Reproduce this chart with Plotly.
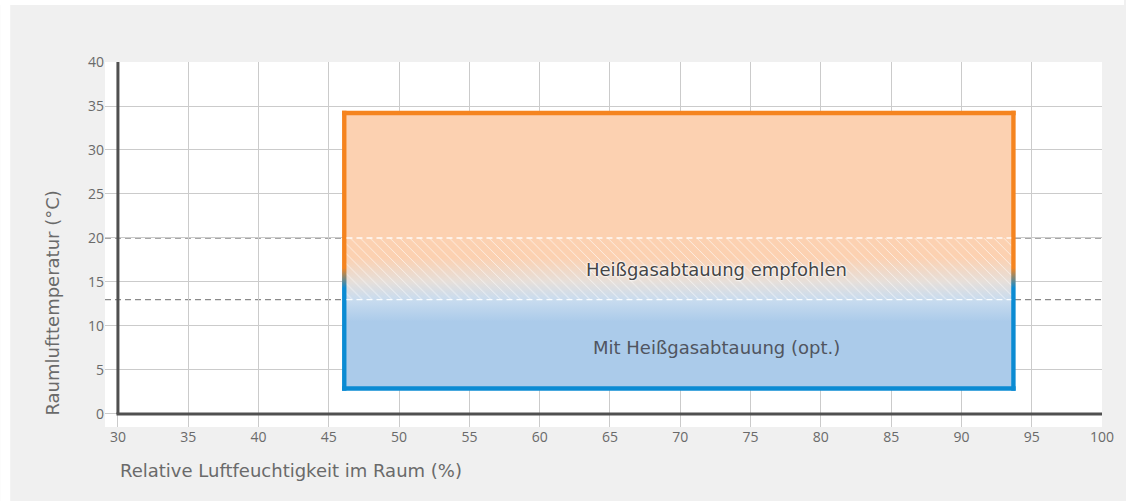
import plotly.graph_objects as go

# Operating window: room humidity (%) vs. room air temperature (°C)
humidity_range = [46.1, 93.7]
temperature_range = [2.9, 34.2]

# Hot-gas defrost thresholds (°C)
defrost_recommended_upper = 20
defrost_recommended_lower = 13

x_ticks = list(range(30, 101, 5))
y_ticks = list(range(0, 41, 5))

label_recommended = "Heißgasabtauung empfohlen"
label_optional = "Mit Heißgasabtauung (opt.)"
x_title = "Relative Luftfeuchtigkeit im Raum (%)"
y_title = "Raumlufttemperatur (°C)"

ORANGE_FILL = "#fcd1b1"
BLUE_FILL = "#abcbea"
ORANGE_LINE = "#f5841f"
BLUE_LINE = "#0b8bd3"
AXIS_COLOR = "#505050"
GRID_COLOR = "#cbcbcb"
TEXT_COLOR = "#6a6a6a"
FONT = "'Open Sans', 'Noto Sans', sans-serif"
WIDE_FONT = "'DejaVu Sans', sans-serif"

X_RANGE = [29.08, 100]
Y_RANGE = [-1.48, 40]

x0, x1 = humidity_range
y0, y1 = temperature_range


def pos(v, lo, hi):
    return max(0.0, min(1.0, (v - lo) / (hi - lo)))


fig = go.Figure()

# Window fill: blue at the bottom fading into orange at the top
fig.add_trace(go.Scatter(
    x=[x0, x1, x1, x0, x0],
    y=[y0, y0, y1, y1, y0],
    mode="lines",
    line=dict(width=0),
    fill="toself",
    fillgradient=dict(
        type="vertical",
        start=y0,
        stop=y1,
        colorscale=[
            [0.0, BLUE_FILL],
            [pos(10.5, y0, y1), BLUE_FILL],
            [pos(13.0, y0, y1), "#c9dcef"],
            [pos(15.0, y0, y1), "#e6dfda"],
            [pos(17.8, y0, y1), ORANGE_FILL],
            [1.0, ORANGE_FILL],
        ],
    ),
    hoverinfo="skip",
    showlegend=False,
))

# Hatched band where hot-gas defrost is recommended
fig.add_trace(go.Scatter(
    x=[x0, x1, x1, x0, x0],
    y=[defrost_recommended_lower, defrost_recommended_lower,
       defrost_recommended_upper, defrost_recommended_upper,
       defrost_recommended_lower],
    mode="lines",
    line=dict(width=0),
    fill="toself",
    fillcolor="rgba(0,0,0,0)",
    fillpattern=dict(shape="\\", fgcolor="white", fgopacity=0.6,
                     bgcolor="rgba(0,0,0,0)", size=7, solidity=0.14),
    hoverinfo="skip",
    showlegend=False,
))

# Side borders with the same orange-to-blue transition
px_x = (X_RANGE[1] - X_RANGE[0]) / 999.0
px_y = (Y_RANGE[1] - Y_RANGE[0]) / 365.0
hw = 2.2 * px_x
hh = 2.2 * px_y
b_lo, b_hi = y0 - hh, y1 + hh
for xc in (x0, x1):
    fig.add_trace(go.Scatter(
        x=[xc - hw, xc + hw, xc + hw, xc - hw, xc - hw],
        y=[b_lo, b_lo, b_hi, b_hi, b_lo],
        mode="lines",
        line=dict(width=0),
        fill="toself",
        fillgradient=dict(
            type="vertical",
            start=b_lo,
            stop=b_hi,
            colorscale=[
                [0.0, BLUE_LINE],
                [pos(14.3, b_lo, b_hi), BLUE_LINE],
                [pos(16.6, b_lo, b_hi), ORANGE_LINE],
                [1.0, ORANGE_LINE],
            ],
        ),
        hoverinfo="skip",
        showlegend=False,
    ))

# Top and bottom borders
fig.add_trace(go.Scatter(x=[x0 - hw, x1 + hw], y=[y1, y1], mode="lines",
                         line=dict(color=ORANGE_LINE, width=4.4),
                         hoverinfo="skip", showlegend=False))
fig.add_trace(go.Scatter(x=[x0 - hw, x1 + hw], y=[y0, y0], mode="lines",
                         line=dict(color=BLUE_LINE, width=4.4),
                         hoverinfo="skip", showlegend=False))

shapes = []
# Threshold lines across the whole chart (behind the window)
for yv in (defrost_recommended_upper, defrost_recommended_lower):
    shapes.append(dict(type="line", xref="x domain", yref="y", x0=0, x1=1,
                       y0=yv, y1=yv, layer="below",
                       line=dict(color="#8a8a8a", width=1.3, dash="6px,4px")))
    # White dashes inside the window
    shapes.append(dict(type="line", xref="x", yref="y", x0=x0 + hw, x1=x1 - hw,
                       y0=yv, y1=yv, layer="above",
                       line=dict(color="rgba(255,255,255,0.9)", width=1.3,
                                 dash="6px,4px")))

# Axis lines through the origin
shapes.append(dict(type="line", xref="x", yref="y", x0=30, x1=30, y0=0, y1=40,
                   layer="above", line=dict(color=AXIS_COLOR, width=3)))
shapes.append(dict(type="line", xref="x", yref="y", x0=30 - 1.5 * px_x, x1=100,
                   y0=0, y1=0, layer="above",
                   line=dict(color=AXIS_COLOR, width=3)))

# White strips around the grey panel
shapes.append(dict(type="rect", xref="paper", yref="paper",
                   x0=-105 / 999, x1=-95 / 999, y0=-74 / 365, y1=439 / 365,
                   fillcolor="white", line=dict(width=0), layer="below"))
shapes.append(dict(type="rect", xref="paper", yref="paper",
                   x0=-105 / 999, x1=1021 / 999, y0=422 / 365, y1=439 / 365,
                   fillcolor="white", line=dict(width=0), layer="below"))

annotations = [
    dict(x=72.6, y=16.4, xref="x", yref="y", text=label_recommended,
         showarrow=False,
         font=dict(family=WIDE_FONT, size=18, color="#454545",
                   shadow="0px 0px 2px white, 0px 0px 2px white, 0px 0px 3px white")),
    dict(x=72.6, y=7.6, xref="x", yref="y", text=label_optional,
         showarrow=False, font=dict(family=WIDE_FONT, size=18, color="#505560")),
    dict(x=30, y=-0.118, xref="x", yref="paper", text=x_title,
         xanchor="left", yanchor="middle", showarrow=False,
         font=dict(family=WIDE_FONT, size=18, color=TEXT_COLOR)),
    dict(x=-53 / 999, y=-0.45, xref="paper", yref="y", text=y_title,
         textangle=-90, xanchor="center", yanchor="bottom", showarrow=False,
         font=dict(family=WIDE_FONT, size=18, color=TEXT_COLOR)),
]

fig.update_layout(
    width=1126, height=501,
    margin=dict(l=105, r=22, t=62, b=74),
    paper_bgcolor="#f0f0f0",
    plot_bgcolor="white",
    font=dict(family=FONT, color=TEXT_COLOR, size=14),
    shapes=shapes,
    annotations=annotations,
    xaxis=dict(range=X_RANGE, tickvals=x_ticks, showgrid=True,
               gridcolor=GRID_COLOR, gridwidth=1, zeroline=False,
               showline=False, ticks="", fixedrange=True,
               tickfont=dict(size=14, color=TEXT_COLOR)),
    yaxis=dict(range=Y_RANGE, tickvals=y_ticks, showgrid=True,
               gridcolor=GRID_COLOR, gridwidth=1, zeroline=False,
               showline=False, ticks="", fixedrange=True,
               tickfont=dict(size=14, color=TEXT_COLOR)),
)

fig.write_html("out.html", config={"displayModeBar": False})
